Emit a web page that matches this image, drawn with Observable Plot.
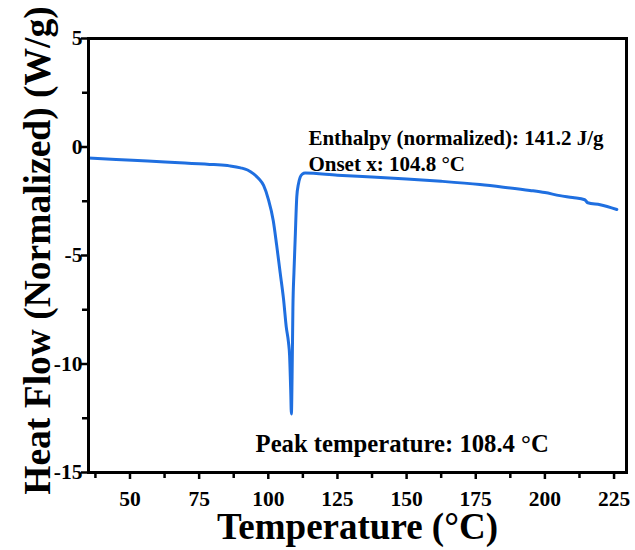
<!DOCTYPE html>
<html><head><meta charset="utf-8">
<script src="https://cdn.jsdelivr.net/npm/d3@7"></script>
<script src="https://cdn.jsdelivr.net/npm/@observablehq/plot@0.6"></script>
<style>body{margin:0;background:#fff}</style>
</head><body><div id="chart"></div>
<script>
const temperature = [35, 45, 56.4, 68, 80.3, 86, 90, 92.5, 94.7, 96.5, 98.3, 100, 101.8, 103, 104.3, 105.5, 106.5, 107.3, 107.7, 108.1, 108.35, 108.6, 108.9, 109.3, 109.7, 110.3, 110.9, 111.5, 112.3, 113.3, 125, 137.5, 150, 162.5, 176.5, 185, 194.6, 200, 205.4, 210, 214.4, 215.5, 220, 226];
const heatFlow = [-0.51, -0.58, -0.65, -0.73, -0.81, -0.87, -0.96, -1.06, -1.24, -1.45, -1.77, -2.4, -3.4, -4.5, -5.8, -7.0, -8.3, -9.0, -9.6, -11.2, -12.3, -10.6, -7.4, -5.7, -4.3, -2.3, -1.7, -1.4, -1.25, -1.2, -1.3, -1.38, -1.47, -1.58, -1.73, -1.85, -2.0, -2.1, -2.24, -2.33, -2.43, -2.57, -2.66, -2.88];
const xTicks = [50, 75, 100, 125, 150, 175, 200, 225];
const xMinorTicks = [37.5, 62.5, 87.5, 112.5, 137.5, 162.5, 187.5, 212.5];
const yTicks = [5, 0, -5, -10, -15];
const yMinorTicks = [2.5, -2.5, -7.5, -12.5];
const notes = [
  {x: 114.5, y: 0.42, text: "Enthalpy (normalized): 141.2 J/g"},
  {x: 114.5, y: -0.78, text: "Onset x: 104.8 °C"}
];
const peakNote = [{x: 95.4, y: -13.7, text: "Peak temperature: 108.4 °C"}];
const xLabel = "Temperature (°C)";
const yLabel = "Heat Flow (Normalized) (W/g)";

const data = temperature.map((t, i) => ({t, h: heatFlow[i]}));
const font = "'Liberation Serif', 'Times New Roman', serif";
const fmt = d => d < 0 ? "-" + Math.abs(d) : String(d);

const chart = Plot.plot({
  width: 635, height: 550,
  marginLeft: 88, marginRight: 9, marginTop: 38, marginBottom: 78,
  style: {fontFamily: font, fontWeight: "bold", background: "#fff", overflow: "visible"},
  x: {domain: [35, 229.5]},
  y: {domain: [-15, 5]},
  marks: [
    Plot.line(data, {x: "t", y: "h", stroke: "#1f6fe0", strokeWidth: 3, curve: "monotone-x"}),
    Plot.axisX(xTicks, {tickSize: 7, strokeWidth: 2.5, text: null, label: null, anchor: "bottom"}),
    Plot.axisX(xMinorTicks, {tickSize: 6, strokeWidth: 2.5, text: null, label: null, anchor: "bottom"}),
    Plot.axisY(yTicks, {tickSize: 7, strokeWidth: 2.5, text: null, label: null, anchor: "left"}),
    Plot.axisY(yMinorTicks, {tickSize: 6, strokeWidth: 2.5, text: null, label: null, anchor: "left"}),
    Plot.text(xTicks, {x: d => d, text: d => fmt(d), frameAnchor: "bottom", lineAnchor: "top", dy: 18, fontSize: 21.5, fontWeight: "bold", fill: "#000"}),
    Plot.text(yTicks, {y: d => d, text: d => fmt(d), frameAnchor: "left", textAnchor: "end", lineAnchor: "middle", dx: -6, fontSize: 21.5, fontWeight: "bold", fill: "#000"}),
    Plot.frame({stroke: "#000", strokeWidth: 3}),
    Plot.text(notes, {x: "x", y: "y", text: "text", textAnchor: "start", fontSize: 21, fontWeight: "bold", fill: "#000"}),
    Plot.text(peakNote, {x: "x", y: "y", text: "text", textAnchor: "start", fontSize: 24.7, fontWeight: "bold", fill: "#000"}),
    Plot.text([xLabel], {frameAnchor: "bottom", lineAnchor: "middle", dy: 55, fontSize: 37, fontWeight: "bold", fill: "#000"}),
    Plot.text([yLabel], {frameAnchor: "left", textAnchor: "middle", lineAnchor: "middle", dx: -51, dy: -5, rotate: -90, fontSize: 37.5, fontWeight: "bold", fill: "#000"})
  ]
});
document.getElementById("chart").append(chart);
</script>
</body></html>
